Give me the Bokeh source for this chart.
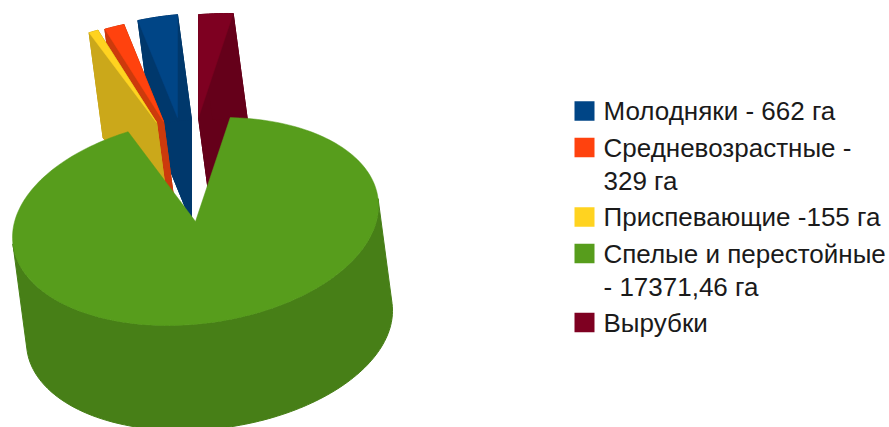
import math
from bokeh.plotting import figure
from bokeh.models import Range1d
from bokeh.core.properties import value
from bokeh.embed import file_html
from bokeh.resources import INLINE

# data
categories = ["Молодняки", "Средневозрастные", "Приспевающие", "Спелые и перестойные", "Вырубки"]
areas = [662, 329, 155, 17371.46, 580]
legend_lines = [
    ["Молодняки - 662 га"],
    ["Средневозрастные -", "329 га"],
    ["Приспевающие -155 га"],
    ["Спелые и перестойные", "- 17371,46 га"],
    ["Вырубки"],
]

# styles
top_colors = ["#004586", "#ff420e", "#ffd320", "#579d1c", "#7e0021"]
wall_colors = ["#00386c", "#cc3a0c", "#cba81a", "#477f17", "#65001a"]
explode = [(-18, -104), (-32, -100), (-39, -99), (0, 0), (3, -104)]
draw_order = [4, 0, 1, 2, 3]
legend_y = [110.5, 147, 216.5, 253, 322]
line_offsets = [0, 33]

# projection
CX, CY = 195, 221
AX, CYX, DY = 183, 15.8, 102.8
DEPTH = (14, 105)


def project(theta, off):
    t = math.radians(theta)
    return (CX + off[0] + AX * math.cos(t),
            CY + off[1] - (CYX * math.cos(t) + DY * math.sin(t)))


total = sum(areas)
spans = []
a = 90.0
for v in areas:
    spans.append((a, a + v / total * 360))
    a += v / total * 360

p = figure(width=889, height=427, output_backend="svg", toolbar_location=None,
           x_range=Range1d(0, 889), y_range=Range1d(427, 0),
           x_axis_type=None, y_axis_type=None, min_border=0, outline_line_color=None)
p.grid.visible = False


def strip(pts):
    return ([q[0] for q in pts] + [q[0] + DEPTH[0] for q in reversed(pts)],
            [q[1] for q in pts] + [q[1] + DEPTH[1] for q in reversed(pts)])


for i in draw_order:
    s, e = spans[i]
    off = explode[i]
    apex = (CX + off[0], CY + off[1])
    n = max(4, int(abs(e - s) / 1.5))
    arc = [project(s + (e - s) * k / n, off) for k in range(n + 1)]
    if i == 3:
        # only the front of the big slice's rim shows: tangent to tangent along the depth
        cross = [q[0] * DEPTH[1] - q[1] * DEPTH[0] for q in arc]
        il, ir = cross.index(min(cross)), cross.index(max(cross))
        walls = [strip(arc[il:ir + 1])]
    else:
        walls = [strip(arc), strip([apex, arc[0]]), strip([arc[-1], apex]),
                 ([apex[0] + DEPTH[0]] + [q[0] + DEPTH[0] for q in arc],
                  [apex[1] + DEPTH[1]] + [q[1] + DEPTH[1] for q in arc])]
    for wx, wy in walls:
        p.patch(wx, wy, fill_color=wall_colors[i], line_color=wall_colors[i], line_width=1)
    p.patch([apex[0]] + [q[0] for q in arc], [apex[1]] + [q[1] for q in arc],
            fill_color=top_colors[i], line_color=top_colors[i], line_width=0.5)

# legend
p.rect([584] * 5, legend_y, width=20, height=19.5, fill_color=top_colors, line_color=None)
for lines, y0 in zip(legend_lines, legend_y):
    for j, line in enumerate(lines):
        p.text([603], [y0 + line_offsets[j]], text=[line], text_font=value("Liberation Sans"),
               text_font_size="26px", text_color="#1a1a1a", text_baseline="middle", text_align="left")

open("out.html", "w").write(file_html(p, INLINE))
